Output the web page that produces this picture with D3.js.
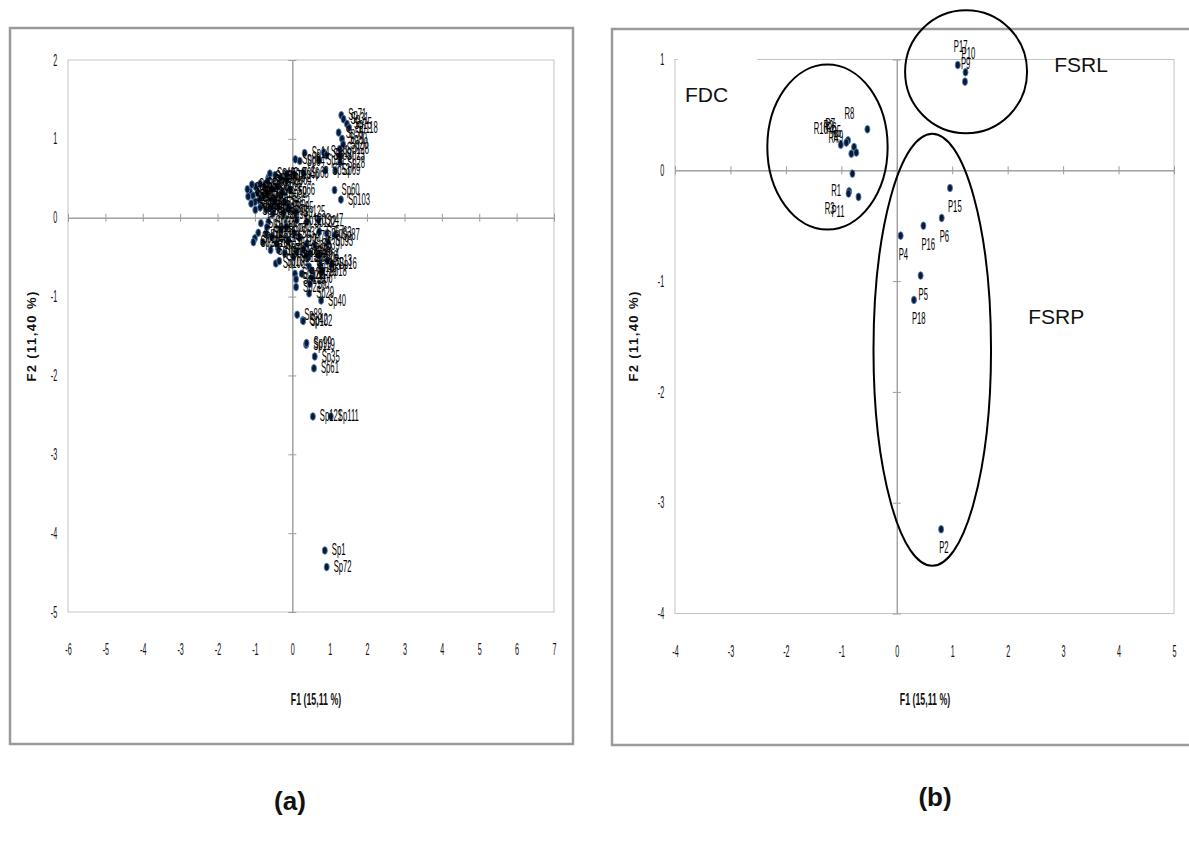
<!DOCTYPE html>
<html>
<head>
<meta charset="utf-8">
<script src="https://cdnjs.cloudflare.com/ajax/libs/d3/7.8.5/d3.min.js"></script>
<style>
  body { margin: 0; background: #fff; }
  svg text { font-family: "Liberation Sans", Arial, sans-serif; }
</style>
</head>
<body>
<script>
var width = 1189,
    height = 843;

// (a) species scores on F1 / F2
var spLabels = ["Sp71","Sp31","Sp15","Sp118","Sp55","Sp80","Sp20","Sp128","Sp23","Sp28","Sp69","Sp60","Sp103",
  "Sp86","Sp84","Sp14","Sp81","Sp89","Sp36","Sp53","Sp68","Sp46",
  "Sp8","Sp17","Sp22","Sp26","Sp33","Sp38","Sp41","Sp44","Sp48","Sp50","Sp52","Sp54","Sp56","Sp59","Sp62","Sp64","Sp66",
  "Sp70","Sp73","Sp74","Sp75","Sp76","Sp77","Sp78","Sp79","Sp82","Sp83","Sp85","Sp90","Sp91","Sp92","Sp94","Sp95","Sp96","Sp97","Sp98","Sp125",
  "Sp100","Sp101","Sp104","Sp105","Sp106","Sp107","Sp108","Sp109","Sp110","Sp112","Sp113","Sp114","Sp115","Sp116","Sp117","Sp27","Sp30","Sp34",
  "Sp120","Sp122","Sp123","Sp124","Sp126","Sp127","Sp129","Sp130","Sp32","Sp37","Sp47",
  "Sp57","Sp63","Sp87","Sp93","Sp45","Sp3","Sp4","Sp5","Sp6","Sp7","Sp9","Sp10","Sp11","Sp13","Sp16","Sp18","Sp19","Sp21","Sp39",
  "Sp29","Sp40","Sp88","Sp42","Sp102","Sp119","Sp99","Sp35","Sp61","Sp121","Sp111","Sp1","Sp72"];
var spF1 = [1.31,1.37,1.46,1.52,1.24,1.33,1.36,1.27,1.27,1.28,1.15,1.13,1.30,
  0.08,0.20,0.33,0.84,0.91,0.72,0.88,0.30,0.05,
  -1.13,-0.98,-0.93,-0.89,-0.82,-0.75,-0.68,-0.64,-0.60,-0.46,-0.55,-0.48,-0.37,-0.28,-0.20,-0.15,-0.06,
  -1.05,-0.86,-0.77,-1.00,-0.86,-0.66,-0.32,-0.16,-1.18,-1.20,-1.08,-0.70,-0.58,-0.40,-0.25,-0.10,-0.52,-0.99,-1.10,0.10,
  -0.84,-0.70,-1.00,-1.04,-0.79,-0.58,-0.44,-0.35,-0.64,-0.68,-0.91,-0.55,-0.42,-0.37,-0.11,-0.30,-0.15,-0.20,
  0.12,0.39,0.29,0.12,0.43,0.03,0.07,0.10,0.05,0.20,0.70,
  0.72,0.92,1.14,0.96,0.39,0.47,0.70,0.74,0.52,0.47,0.38,0.45,0.25,0.93,1.06,0.79,0.52,0.10,0.60,
  0.45,0.77,0.13,0.28,0.29,0.37,0.38,0.60,0.58,0.55,1.03,0.87,0.92];
var spF2 = [1.30,1.25,1.19,1.14,1.08,1.00,0.93,0.87,0.79,0.70,0.60,0.35,0.23,
  0.74,0.72,0.82,0.83,0.79,0.73,0.60,0.57,0.55,
  0.33,0.39,0.31,0.22,0.16,0.41,0.31,0.51,0.56,0.54,0.37,0.22,0.14,0.31,0.20,0.48,0.35,
  0.28,0.43,0.28,0.20,0.13,0.47,0.51,0.55,0.27,0.36,0.42,0.10,0.12,0.40,0.05,0.12,0.05,0.10,0.18,0.07,
  -0.07,-0.20,-0.26,-0.31,-0.31,-0.41,-0.58,-0.55,-0.05,-0.12,-0.19,-0.24,-0.33,-0.41,-0.29,-0.15,-0.12,-0.45,
  -0.03,-0.05,-0.41,-0.43,-0.50,-0.50,-0.71,-0.78,-0.20,-0.25,-0.03,
  -0.18,-0.20,-0.22,-0.30,-0.33,-0.45,-0.48,-0.60,-0.77,-0.84,-0.48,-0.62,-0.71,-0.55,-0.59,-0.67,-0.67,-0.88,-0.35,
  -0.96,-1.05,-1.23,-1.30,-1.31,-1.61,-1.59,-1.76,-1.91,-2.52,-2.52,-4.22,-4.43];

// (b) sampling plots on F1 / F2
var plotLabels = ["P17","P10","P9","R8","R7","R2","R10","R5","R4","R9","R6","R1","R3","P11",
  "P15","P6","P16","P4","P5","P18","P2"];
var plotF1 = [1.10,1.24,1.23,-0.53,-0.88,-0.91,-1.01,-0.77,-0.82,-0.73,-0.80,-0.86,-0.87,-0.69,
  0.96,0.81,0.48,0.07,0.43,0.31,0.80];
var plotF2 = [0.95,0.885,0.80,0.37,0.27,0.25,0.23,0.21,0.15,0.16,-0.03,-0.19,-0.21,-0.24,
  -0.16,-0.43,-0.50,-0.59,-0.95,-1.17,-3.24];
var plotLabelSide = ["a","a","a","ul","ul","ul","ul","ul","ul","ul","uf","l","bl","bl",
  "b","b","b","b","b","b","b"];

// groups circled on (b)
var groupNames = ["FDC","FSRL","FSRP"];
var groupCx = [-1.25, 1.25, 0.64];
var groupCy = [0.21, 0.89, -1.62];
var groupRx = [1.085, 1.10, 1.06];
var groupRy = [0.745, 0.555, 1.95];
var groupTagF1 = [-3.82, 2.84, 2.37];
var groupTagF2 = [0.62, 0.89, -1.39];

// axes
var xTicksA = [-6,-5,-4,-3,-2,-1,0,1,2,3,4,5,6,7];
var yTicksA = [2,1,0,-1,-2,-3,-4,-5];
var xTicksB = [-4,-3,-2,-1,0,1,2,3,4,5];
var yTicksB = [1,0,-1,-2,-3,-4];
var xTitle = "F1 (15,11 %)";
var yTitle = "F2 (11,40 %)";

var svg = d3.select("body").append("svg")
  .attr("width", width)
  .attr("height", height);

// the chart was stretched vertically: text is narrow
var tickSqueeze = 0.45,
    labelSqueeze = 0.48;

var sides = {
  r:  {anchor: "start", dx: 7,   dy: 5},
  a:  {anchor: "start", dx: -4,  dy: -13},
  b:  {anchor: "start", dx: -2,  dy: 24},
  l:  {anchor: "end",   dx: -8,  dy: 5},
  ul: {anchor: "end",   dx: -13, dy: -10.5},
  uf: {anchor: "end",   dx: -16, dy: -40},
  bl: {anchor: "end",   dx: -14, dy: 20}
};

function panel(cfg) {
  var g = svg.append("g");

  g.append("rect")
    .attr("x", cfg.frame[0]).attr("y", cfg.frame[1])
    .attr("width", cfg.frame[2]).attr("height", cfg.frame[3])
    .attr("fill", "#fff").attr("stroke", "#9a9a9a").attr("stroke-width", 2.5);

  var x = d3.scaleLinear().domain(cfg.xDomain).range([cfg.plot[0], cfg.plot[1]]);
  var y = d3.scaleLinear().domain(cfg.yDomain).range([cfg.plot[3], cfg.plot[2]]);

  // plot area border
  g.append("rect")
    .attr("x", x(cfg.xDomain[0])).attr("y", y(cfg.yDomain[1]))
    .attr("width", x(cfg.xDomain[1]) - x(cfg.xDomain[0]))
    .attr("height", y(cfg.yDomain[0]) - y(cfg.yDomain[1]))
    .attr("fill", "none").attr("stroke", "#c4c4c4");

  // axes through origin, cross ticks
  [d3.axisBottom, d3.axisTop].forEach(function(ax) {
    g.append("g").attr("class", "zero")
      .attr("transform", "translate(0," + y(0) + ")")
      .call(ax(x).tickValues(cfg.xTicks).tickSize(4).tickSizeOuter(0).tickFormat(""));
  });
  [d3.axisLeft, d3.axisRight].forEach(function(ax) {
    g.append("g").attr("class", "zero")
      .attr("transform", "translate(" + x(0) + ",0)")
      .call(ax(y).tickValues(cfg.yTicks).tickSize(4).tickSizeOuter(0).tickFormat(""));
  });
  g.selectAll(".zero path, .zero line").attr("stroke", "#9c9c9c");

  // tick labels along the plot edges
  var fmt = function(d) { return String(d); };
  var xl = g.append("g")
    .attr("transform", "translate(0," + y(cfg.yDomain[0]) + ")")
    .call(d3.axisBottom(x).tickValues(cfg.xTicks).tickFormat(fmt).tickSize(0).tickPadding(32));
  var yl = g.append("g")
    .attr("transform", "translate(" + x(cfg.xDomain[0]) + ",0)")
    .call(d3.axisLeft(y).tickValues(cfg.yTicks).tickFormat(fmt).tickSize(0).tickPadding(24));
  [xl, yl].forEach(function(a) {
    a.select(".domain").remove();
    a.selectAll("text")
      .attr("font-family", "Liberation Sans, Arial, sans-serif")
      .attr("font-size", 16)
      .attr("fill", "#111")
      .attr("transform", "scale(" + tickSqueeze + ",1)");
  });

  // titles
  g.append("text")
    .attr("transform", "translate(" + cfg.xTitlePos[0] + "," + cfg.xTitlePos[1] + ") scale(0.55,1)")
    .attr("text-anchor", "middle")
    .attr("font-size", 16).attr("font-weight", "bold").attr("fill", "#111")
    .text(xTitle);
  g.append("text")
    .attr("transform", "translate(" + cfg.yTitlePos[0] + "," + cfg.yTitlePos[1] + ") rotate(-90)")
    .attr("text-anchor", "middle")
    .attr("font-size", 13).attr("font-weight", "bold").attr("letter-spacing", 1.4).attr("fill", "#111")
    .text(yTitle);

  g.append("text")
    .attr("x", cfg.tag[0]).attr("y", cfg.tag[1])
    .attr("text-anchor", "middle")
    .attr("font-family", "Lato, 'Open Sans', sans-serif")
    .attr("font-size", 26).attr("font-weight", "bold").attr("fill", "#111")
    .text(cfg.tagText);

  return {g: g, x: x, y: y};
}

function drawPoints(p, labels, f1, f2, side) {
  var idx = d3.range(labels.length);
  p.g.append("g").selectAll("ellipse")
    .data(idx)
    .enter().append("ellipse")
      .attr("cx", function(i) { return p.x(f1[i]); })
      .attr("cy", function(i) { return p.y(f2[i]); })
      .attr("rx", 2.5)
      .attr("ry", 3.8)
      .attr("fill", "#0b1a30")
      .attr("stroke", "#4f7fba")
      .attr("stroke-width", 0.9);
  p.g.append("g").selectAll("text")
    .data(idx)
    .enter().append("text")
      .attr("transform", function(i) {
        var s = sides[side(i)];
        return "translate(" + (p.x(f1[i]) + s.dx) + "," + (p.y(f2[i]) + s.dy) + ") scale(" + labelSqueeze + ",1)";
      })
      .attr("text-anchor", function(i) { return sides[side(i)].anchor; })
      .attr("font-size", 16)
      .attr("fill", "#000")
      .text(function(i) { return labels[i]; });
}

// ---- panel (a)
var pa = panel({
  frame: [10, 28, 563, 716],
  plot: [68, 554, 60, 612],
  xDomain: [-6, 7], yDomain: [-5, 2],
  xTicks: xTicksA, yTicks: yTicksA,
  xTitlePos: [316, 705], yTitlePos: [36, 336],
  tag: [290, 810], tagText: "(a)"
});
drawPoints(pa, spLabels, spF1, spF2, function() { return "r"; });

// ---- panel (b)
var pb = panel({
  frame: [612, 29, 640, 716],
  plot: [675, 1174, 59.5, 613.5],
  xDomain: [-4, 5], yDomain: [-4, 1],
  xTicks: xTicksB, yTicks: yTicksB,
  xTitlePos: [925, 705], yTitlePos: [638, 336],
  tag: [935, 806], tagText: "(b)"
});

// white box of the FDC tag hides part of the plot border
pb.g.append("rect")
  .attr("x", pb.x(-3.95)).attr("y", pb.y(1) - 5)
  .attr("width", pb.x(-2.52) - pb.x(-3.95)).attr("height", 10)
  .attr("fill", "#fff");

drawPoints(pb, plotLabels, plotF1, plotF2, function(i) { return plotLabelSide[i]; });

pb.g.append("g").selectAll("ellipse")
  .data(groupNames)
  .enter().append("ellipse")
    .attr("cx", function(d, i) { return pb.x(groupCx[i]); })
    .attr("cy", function(d, i) { return pb.y(groupCy[i]); })
    .attr("rx", function(d, i) { return pb.x(groupRx[i]) - pb.x(0); })
    .attr("ry", function(d, i) { return pb.y(0) - pb.y(groupRy[i]); })
    .attr("fill", "none")
    .attr("stroke", "#000")
    .attr("stroke-width", 2);

pb.g.append("g").selectAll("text")
  .data(groupNames)
  .enter().append("text")
    .attr("x", function(d, i) { return pb.x(groupTagF1[i]); })
    .attr("y", function(d, i) { return pb.y(groupTagF2[i]); })
    .attr("font-family", "Lato, 'Open Sans', sans-serif")
    .attr("font-size", 21)
    .attr("fill", "#111")
    .text(function(d) { return d; });
</script>
</body>
</html>
